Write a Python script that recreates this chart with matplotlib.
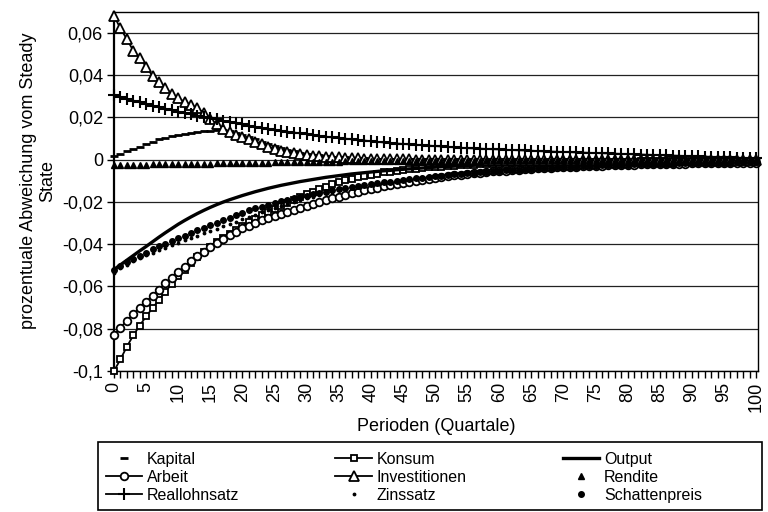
import matplotlib
matplotlib.use("Agg")
import matplotlib.pyplot as plt
from matplotlib.patches import Rectangle
from matplotlib.ticker import FuncFormatter, MultipleLocator

plt.rcParams["font.family"] = ["Liberation Sans", "DejaVu Sans"]

# Perioden 0..100, Werte als Abweichung vom Steady State
perioden = list(range(101))

kapital = [
    .0016, .0028, .0039, .0049, .0060, .0073, .0085, .0096, .0103, .0111,
    .0117, .0122, .0126, .0130, .0134, .0137, .0139, .0139, .0134, .0126,
    .0116, .0106, .0095, .0084, .0073, .0063, .0054, .0046, .0039, .0033,
    .0028, .0024, .0020, .0017, .0014, .0012, .0010, .0008, .0007, .0006,
    .0005, .0005, .0004, .0004, .0004, .0003, .0003, .0003, .0003, .0002,
    .0002, .0002, .0002, .0002, .0002, .0002, .0002, .0002, .0002, .0002,
    .0002, .0002, .0002, .0001, .0001, .0001, .0001, .0001, .0001, .0001,
    .0001, .0001, .0001, .0001, .0001, .0001, .0001, .0001, .0001, .0001,
    .0001, .0001, .0001, .0001, .0001, .0001, .0001, .0001, .0001, .0001,
    .0000, .0000, .0000, .0000, .0000, .0000, .0000, .0000, .0000, .0000,
    .0000,
]

konsum = [
    -.1000, -.0945, -.0885, -.0832, -.0785, -.0742, -.0702, -.0664, -.0625, -.0588,
    -.0553, -.0520, -.0490, -.0462, -.0436, -.0412, -.0390, -.0370, -.0350, -.0331,
    -.0313, -.0296, -.0280, -.0264, -.0249, -.0234, -.0220, -.0206, -.0192, -.0178,
    -.0165, -.0152, -.0140, -.0128, -.0117, -.0107, -.0098, -.0090, -.0083, -.0077,
    -.0071, -.0066, -.0061, -.0057, -.0053, -.0049, -.0046, -.0043, -.0040, -.0037,
    -.0035, -.0033, -.0031, -.0029, -.0027, -.0026, -.0024, -.0023, -.0022, -.0021,
    -.0020, -.0019, -.0018, -.0017, -.0017, -.0016, -.0015, -.0015, -.0014, -.0014,
    -.0013, -.0013, -.0012, -.0012, -.0012, -.0011, -.0011, -.0011, -.0010, -.0010,
    -.0010, -.0010, -.0009, -.0009, -.0009, -.0009, -.0008, -.0008, -.0008, -.0008,
    -.0008, -.0007, -.0007, -.0007, -.0007, -.0007, -.0006, -.0006, -.0006, -.0006,
    -.0006,
]

output = [
    -.0520, -.0498, -.0476, -.0454, -.0432, -.0411, -.0389, -.0367, -.0346, -.0326,
    -.0306, -.0288, -.0271, -.0255, -.0240, -.0226, -.0213, -.0201, -.0190, -.0180,
    -.0170, -.0161, -.0152, -.0144, -.0136, -.0129, -.0122, -.0116, -.0110, -.0104,
    -.0099, -.0094, -.0089, -.0084, -.0080, -.0076, -.0072, -.0068, -.0065, -.0062,
    -.0059, -.0056, -.0053, -.0051, -.0048, -.0046, -.0044, -.0042, -.0040, -.0038,
    -.0036, -.0034, -.0033, -.0031, -.0030, -.0028, -.0027, -.0026, -.0025, -.0024,
    -.0023, -.0022, -.0021, -.0020, -.0019, -.0018, -.0017, -.0017, -.0016, -.0015,
    -.0015, -.0014, -.0014, -.0013, -.0013, -.0012, -.0012, -.0011, -.0011, -.0010,
    -.0010, -.0010, -.0009, -.0009, -.0009, -.0008, -.0008, -.0008, -.0008, -.0007,
    -.0007, -.0007, -.0007, -.0006, -.0006, -.0006, -.0006, -.0006, -.0005, -.0005,
    -.0005,
]

arbeit = [
    -.0830, -.0795, -.0762, -.0731, -.0701, -.0672, -.0644, -.0615, -.0585, -.0558,
    -.0532, -.0507, -.0482, -.0458, -.0435, -.0413, -.0393, -.0374, -.0357, -.0341,
    -.0326, -.0312, -.0299, -.0287, -.0276, -.0266, -.0256, -.0246, -.0237, -.0228,
    -.0219, -.0210, -.0201, -.0192, -.0183, -.0175, -.0167, -.0160, -.0153, -.0146,
    -.0139, -.0133, -.0127, -.0121, -.0115, -.0110, -.0105, -.0100, -.0095, -.0090,
    -.0086, -.0082, -.0078, -.0074, -.0071, -.0068, -.0065, -.0062, -.0059, -.0056,
    -.0054, -.0052, -.0050, -.0048, -.0046, -.0044, -.0042, -.0040, -.0039, -.0037,
    -.0036, -.0035, -.0033, -.0032, -.0031, -.0030, -.0029, -.0028, -.0027, -.0026,
    -.0025, -.0024, -.0023, -.0023, -.0022, -.0021, -.0021, -.0020, -.0019, -.0019,
    -.0018, -.0018, -.0017, -.0017, -.0016, -.0016, -.0015, -.0015, -.0015, -.0014,
    -.0014,
]

investitionen = [
    .0680, .0620, .0570, .0515, .0480, .0440, .0395, .0368, .0338, .0312,
    .0289, .0274, .0258, .0244, .0220, .0192, .0166, .0146, .0130, .0116,
    .0105, .0095, .0084, .0072, .0060, .0050, .0040, .0034, .0029, .0025,
    .0022, .0019, .0016, .0014, .0012, .0010, .0008, .0007, .0006, .0005,
    .0004, .0003, .0003, .0002, .0002, .0001, .0001, .0000, .0000, -.0001,
    -.0001, -.0001, -.0001, -.0001, -.0001, -.0002, -.0002, -.0002, -.0002, -.0002,
    -.0002, -.0002, -.0002, -.0002, -.0002, -.0002, -.0002, -.0002, -.0002, -.0002,
    -.0002, -.0002, -.0002, -.0002, -.0002, -.0002, -.0002, -.0002, -.0002, -.0002,
    -.0002, -.0002, -.0002, -.0002, -.0002, -.0001, -.0001, -.0001, -.0001, -.0001,
    -.0001, -.0001, -.0001, -.0001, -.0001, -.0001, -.0001, -.0001, -.0001, -.0001,
    -.0001,
]

rendite = [
    -.0026, -.0026, -.0025, -.0025, -.0024, -.0024, -.0023, -.0023, -.0022, -.0022,
    -.0021, -.0021, -.0020, -.0020, -.0019, -.0019, -.0018, -.0018, -.0017, -.0016,
    -.0016, -.0015, -.0015, -.0014, -.0014, -.0013, -.0013, -.0013, -.0012, -.0012,
    -.0011, -.0011, -.0011, -.0010, -.0010, -.0010, -.0009, -.0009, -.0009, -.0008,
    -.0008, -.0008, -.0008, -.0007, -.0007, -.0007, -.0007, -.0006, -.0006, -.0006,
    -.0006, -.0006, -.0005, -.0005, -.0005, -.0005, -.0005, -.0005, -.0004, -.0004,
    -.0004, -.0004, -.0004, -.0004, -.0004, -.0004, -.0004, -.0004, -.0004, -.0004,
    -.0004, -.0004, -.0004, -.0003, -.0003, -.0003, -.0003, -.0003, -.0003, -.0003,
    -.0003, -.0003, -.0003, -.0003, -.0003, -.0003, -.0003, -.0003, -.0003, -.0003,
    -.0003, -.0003, -.0003, -.0003, -.0002, -.0002, -.0002, -.0002, -.0002, -.0002,
    -.0002,
]

reallohnsatz = [
    .0305, .0295, .0287, .0279, .0271, .0263, .0255, .0248, .0241, .0234,
    .0227, .0220, .0214, .0208, .0202, .0196, .0190, .0184, .0178, .0172,
    .0166, .0160, .0155, .0150, .0145, .0140, .0136, .0132, .0128, .0124,
    .0120, .0116, .0112, .0108, .0105, .0102, .0099, .0096, .0093, .0090,
    .0087, .0084, .0081, .0078, .0076, .0074, .0072, .0070, .0068, .0066,
    .0064, .0062, .0060, .0058, .0056, .0054, .0053, .0052, .0050, .0049,
    .0048, .0046, .0045, .0044, .0043, .0042, .0040, .0039, .0038, .0037,
    .0036, .0035, .0034, .0033, .0032, .0031, .0030, .0029, .0028, .0027,
    .0026, .0025, .0024, .0023, .0022, .0021, .0020, .0019, .0018, .0017,
    .0016, .0015, .0014, .0013, .0012, .0011, .0010, .0009, .0008, .0007,
    .0006,
]

zinssatz = [
    -.0535, -.0515, -.0498, -.0482, -.0467, -.0453, -.0440, -.0428, -.0416, -.0404,
    -.0393, -.0382, -.0371, -.0360, -.0349, -.0338, -.0327, -.0316, -.0305, -.0294,
    -.0283, -.0272, -.0261, -.0250, -.0240, -.0230, -.0220, -.0211, -.0202, -.0193,
    -.0184, -.0176, -.0168, -.0160, -.0153, -.0146, -.0139, -.0133, -.0127, -.0121,
    -.0116, -.0111, -.0106, -.0101, -.0097, -.0093, -.0089, -.0085, -.0082, -.0079,
    -.0076, -.0073, -.0070, -.0067, -.0064, -.0062, -.0059, -.0057, -.0055, -.0053,
    -.0051, -.0049, -.0047, -.0045, -.0043, -.0041, -.0040, -.0038, -.0037, -.0035,
    -.0034, -.0033, -.0031, -.0030, -.0029, -.0028, -.0027, -.0026, -.0025, -.0024,
    -.0023, -.0022, -.0021, -.0021, -.0020, -.0019, -.0019, -.0018, -.0017, -.0017,
    -.0016, -.0016, -.0015, -.0015, -.0014, -.0014, -.0013, -.0013, -.0013, -.0012,
    -.0012,
]

schattenpreis = [
    -.0520, -.0502, -.0485, -.0469, -.0454, -.0440, -.0425, -.0411, -.0398, -.0385,
    -.0372, -.0360, -.0347, -.0335, -.0323, -.0311, -.0299, -.0287, -.0275, -.0263,
    -.0251, -.0240, -.0231, -.0222, -.0214, -.0206, -.0198, -.0191, -.0184, -.0177,
    -.0170, -.0164, -.0158, -.0152, -.0146, -.0141, -.0136, -.0131, -.0126, -.0121,
    -.0116, -.0112, -.0108, -.0104, -.0100, -.0096, -.0092, -.0089, -.0085, -.0082,
    -.0079, -.0076, -.0073, -.0070, -.0067, -.0064, -.0062, -.0059, -.0057, -.0055,
    -.0053, -.0051, -.0049, -.0047, -.0045, -.0043, -.0041, -.0040, -.0038, -.0037,
    -.0035, -.0034, -.0033, -.0031, -.0030, -.0029, -.0028, -.0027, -.0026, -.0025,
    -.0024, -.0023, -.0022, -.0021, -.0021, -.0020, -.0019, -.0019, -.0018, -.0017,
    -.0017, -.0016, -.0016, -.0015, -.0015, -.0014, -.0014, -.0013, -.0013, -.0013,
    -.0012,
]

y_ticks = [-0.1, -0.08, -0.06, -0.04, -0.02, 0.0, 0.02, 0.04, 0.06]


def komma(v, pos=None):
    v = round(v, 4)
    if abs(v) < 1e-9:
        return "0"
    return f"{v:g}".replace(".", ",")


fig = plt.figure(figsize=(7.68, 5.12), dpi=100)
ax = fig.add_axes([114 / 768, 1 - 371 / 512, 644 / 768, 359 / 512])

black = "black"
common = dict(color=black, clip_on=False)
# Zeichenreihenfolge wie in Excel (zeilenweise Legende)
h_kap, = ax.plot(perioden, kapital, linestyle="none", marker="_", ms=6, mew=2.0,
                 label="Kapital", zorder=3, **common)
h_kon, = ax.plot(perioden, konsum, lw=1.3, marker="s", ms=5,
                 mfc="white", mec=black, mew=1.3, label="Konsum", zorder=4, **common)
h_out, = ax.plot(perioden, output, lw=2.4, label="Output", zorder=5, **common)
h_arb, = ax.plot(perioden, arbeit, lw=1.3, marker="o", ms=5.5,
                 mfc="white", mec=black, mew=1.3, label="Arbeit", zorder=6, **common)
h_inv, = ax.plot(perioden, investitionen, lw=1.3, marker="^", ms=6.5,
                 mfc="white", mec=black, mew=1.3, label="Investitionen", zorder=7, **common)
h_ren, = ax.plot(perioden, rendite, linestyle="none", marker="^", ms=4.5,
                 label="Rendite", zorder=8, **common)
h_rea, = ax.plot(perioden, reallohnsatz, lw=1.3, marker="+", ms=8,
                 mew=1.5, label="Reallohnsatz", zorder=9, **common)
h_zin, = ax.plot(perioden, zinssatz, linestyle="none", marker=".", ms=3.5,
                 label="Zinssatz", zorder=10, **common)
h_sch, = ax.plot(perioden, schattenpreis, linestyle="none", marker="o", ms=4,
                 label="Schattenpreis", zorder=11, **common)

ax.set_xlim(0, 100.3)
ax.set_ylim(-0.1, 0.0698)
ax.set_yticks(y_ticks)
ax.yaxis.set_major_formatter(FuncFormatter(komma))
ax.xaxis.set_major_locator(MultipleLocator(5))
ax.xaxis.set_minor_locator(MultipleLocator(1))
ax.tick_params(axis="x", which="both", direction="out", length=5, width=1,
               labelrotation=90, labelsize=13, pad=3)
ax.tick_params(axis="y", direction="out", length=5, width=1, labelsize=13, pad=3)
ax.grid(axis="y", color="#222222", linewidth=0.9, zorder=0)
ax.set_axisbelow(True)
for s in ax.spines.values():
    s.set_linewidth(1.0)
ax.spines["left"].set_linewidth(1.6)

ax.set_xlabel("Perioden (Quartale)", fontsize=13)
ax.xaxis.set_label_coords(0.5, -(418 - 371) / 359)
ax.set_ylabel("prozentuale Abweichung vom Steady\nState", fontsize=13,
              ha="center", linespacing=1.15)
ax.yaxis.set_label_coords(-(114 - 56) / 644, 0.53)

# Legende: drei Spalten, Rahmen separat wie im Excel-Diagramm
handles = [h_kap, h_arb, h_rea, h_kon, h_inv, h_zin, h_out, h_ren, h_sch]
leg = fig.legend(handles, [h.get_label() for h in handles], ncol=3,
                 loc="upper left", bbox_to_anchor=(100 / 768, 1 - 446 / 512),
                 fontsize=11.5, frameon=False, numpoints=1, handlelength=2.3,
                 handletextpad=0.3, labelspacing=0.2, borderpad=0.35,
                 columnspacing=6.0, borderaxespad=0)
fig.patches.append(Rectangle((98 / 768, 2 / 512), 664 / 768, 68 / 512,
                             transform=fig.transFigure, fill=False,
                             edgecolor=black, linewidth=1.2))

fig.savefig("out.png", dpi=100)
